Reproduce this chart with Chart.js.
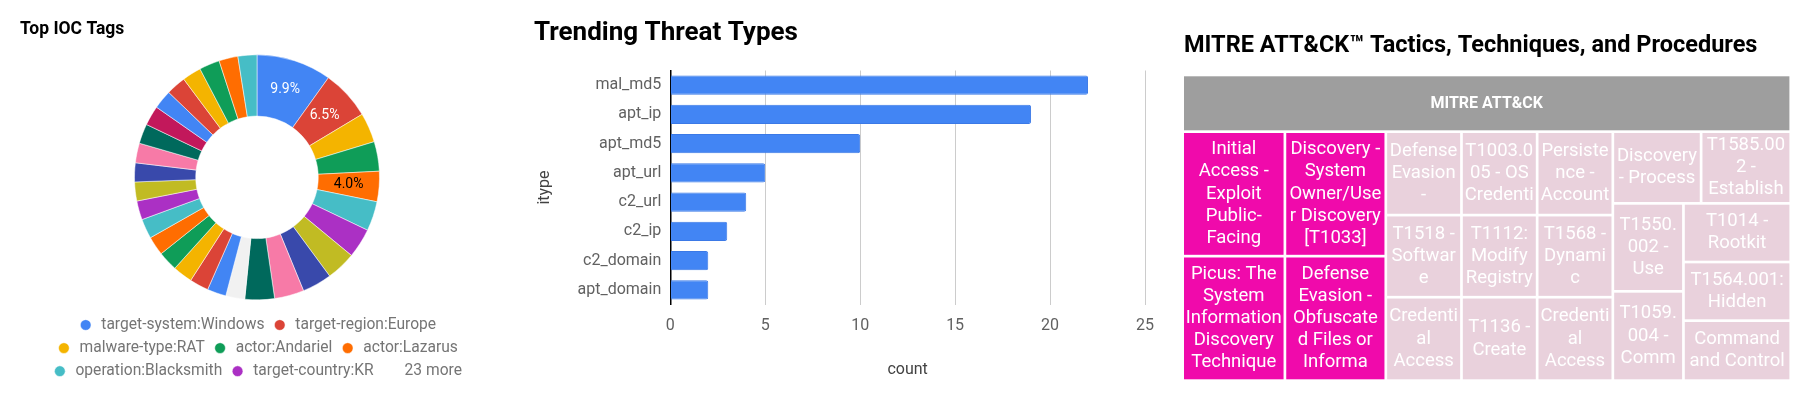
<!DOCTYPE html>
<html>
<head>
<meta charset="utf-8">
<script src="https://cdn.jsdelivr.net/npm/chart.js@4.4.1/dist/chart.umd.min.js"></script>
<style>
  html, body { margin: 0; padding: 0; background: #fff; }
  body { width: 1809px; height: 399px; position: relative; overflow: hidden; font-family: Roboto, sans-serif; }
  .panel { position: absolute; top: 0; height: 399px; }
  #tags { left: 0; width: 494px; }
  #threats { left: 520px; width: 650px; }
  #mitre { left: 1170px; width: 639px; }
</style>
</head>
<body>
<div class="panel" id="tags"><canvas id="tags-chart"></canvas></div>
<div class="panel" id="threats"><canvas id="threats-chart"></canvas></div>
<div class="panel" id="mitre"><canvas id="mitre-chart"></canvas></div>

<script>
'use strict';

// ── Top IOC tags (share of tagged IOCs, %) ──
const tagNames = [
  'target-system:Windows', 'target-region:Europe', 'malware-type:RAT',
  'actor:Andariel', 'actor:Lazarus', 'operation:Blacksmith', 'target-country:KR'
];
const tagShare = [
  9.9, 6.5, 3.9, 3.9, 4.0, 3.9, 3.9, 3.9, 3.9, 3.9,
  3.9, 2.5, 2.5, 2.5, 2.6, 2.6, 2.5, 2.6, 2.5, 2.5,
  2.5, 2.6, 2.6, 2.6, 2.5, 2.6, 2.5, 2.7, 2.5, 2.5
];
const moreTagsText = '23 more';
const tagColors = [
  '#4285f4', '#db4437', '#f4b400', '#0f9d58', '#ff6d01', '#46bdc6', '#ab30c4', '#c1bb23',
  '#3949ab', '#f77aa7', '#00695c', '#f1f1f1', '#4285f4', '#db4437', '#f4b400', '#0f9d58',
  '#ff6d01', '#46bdc6', '#ab30c4', '#c1bb23', '#3949ab', '#f77aa7', '#00695c', '#c2185b',
  '#4285f4', '#db4437', '#f4b400', '#0f9d58', '#ff6d01', '#46bdc6'
];

// ── Trending threat types ──
const threatTypes = ['mal_md5', 'apt_ip', 'apt_md5', 'apt_url', 'c2_url', 'c2_ip', 'c2_domain', 'apt_domain'];
const threatCounts = [22, 19, 10, 5, 4, 3, 2, 2];

// ── MITRE ATT&CK treemap ──
const ttpRoot = 'MITRE ATT&CK';
const ttpNames = [
  'Initial Access - Exploit Public-Facing',
  'Picus: The System Information Discovery Technique',
  'Discovery - System Owner/User Discovery [T1033]',
  'Defense Evasion - Obfuscated Files or Informa',
  'Defense Evasion -',
  'T1518 - Software',
  'Credential Access - OS',
  'T1003.005 - OS Credenti',
  'T1112: Modify Registry',
  'T1136 - Create',
  'Persistence - Account',
  'T1568 - Dynamic',
  'Credential Access -',
  'Discovery - Process',
  'T1585.002 - Establish',
  'T1550.002 - Use Alterna',
  'T1059.004 - Command',
  'T1014 - Rootkit',
  'T1564.001: Hidden Files',
  'Command and Control -'
];
const ttpCounts = [2, 2, 2, 2, 1, 1, 1, 1, 1, 1, 1, 1, 1, 1, 1, 1, 1, 1, 1, 1];

Chart.defaults.font.family = 'Roboto, "Noto Sans", sans-serif';
Chart.defaults.animation = false;

function luminance(hex) {
  const [r, g, b] = [1, 3, 5].map(i => parseInt(hex.slice(i, i + 2), 16));
  return (0.299 * r + 0.587 * g + 0.114 * b) / 255;
}

function mixColor(a, b, t) {
  const ca = [1, 3, 5].map(i => parseInt(a.slice(i, i + 2), 16));
  const cb = [1, 3, 5].map(i => parseInt(b.slice(i, i + 2), 16));
  const c = ca.map((v, i) => Math.round(v + (cb[i] - v) * t));
  return `rgb(${c[0]},${c[1]},${c[2]})`;
}

// ── Doughnut ──
const sliceLabels = {
  id: 'sliceLabels',
  afterDatasetsDraw(chart) {
    const { ctx } = chart;
    const total = tagShare.reduce((a, b) => a + b, 0);
    ctx.save();
    ctx.font = '14px Roboto';
    ctx.textAlign = 'center';
    ctx.textBaseline = 'middle';
    chart.getDatasetMeta(0).data.forEach((arc, i) => {
      const pct = Math.round(tagShare[i] / total * 1000) / 10;
      if (pct < 4) return;
      const { x, y } = arc.tooltipPosition();
      ctx.fillStyle = luminance(tagColors[i]) > 0.5 ? '#000' : '#fff';
      ctx.fillText(pct.toFixed(1) + '%', x, y);
    });
    ctx.restore();
  }
};

const hiddenTags = tagShare.slice(tagNames.length).map((_, i) => `tag ${tagNames.length + i + 1}`);

new Chart(document.getElementById('tags-chart'), {
  type: 'doughnut',
  plugins: [sliceLabels],
  data: {
    labels: tagNames.concat(hiddenTags),
    datasets: [{
      data: tagShare,
      backgroundColor: tagColors,
      borderColor: '#ffffff',
      borderWidth: 0.5
    }]
  },
  options: {
    responsive: true,
    maintainAspectRatio: false,
    radius: 122.5,
    cutout: '50%',
    layout: { padding: { left: 20, right: 0, top: 0, bottom: 10 } },
    plugins: {
      tooltip: { enabled: false },
      title: {
        display: true,
        text: 'Top IOC Tags',
        align: 'start',
        color: '#000',
        font: { size: 17.5, weight: 'bold' },
        padding: { top: 19.2, bottom: 4.8 }
      },
      legend: {
        position: 'bottom',
        labels: {
          usePointStyle: true,
          pointStyle: 'circle',
          boxWidth: 15.6,
          boxHeight: 7.6,
          padding: 7.5,
          color: '#757575',
          font: { size: 15.6 },
          generateLabels(chart) {
            const items = Chart.overrides.doughnut.plugins.legend.labels
              .generateLabels(chart).slice(0, tagNames.length);
            items.push({
              text: moreTagsText,
              fillStyle: 'rgba(0,0,0,0)',
              strokeStyle: 'rgba(0,0,0,0)',
              lineWidth: 0,
              pointStyle: 'circle',
              fontColor: '#757575',
              hidden: false
            });
            return items;
          }
        }
      }
    }
  }
});

// ── Horizontal bars ──
new Chart(document.getElementById('threats-chart'), {
  type: 'bar',
  data: {
    labels: threatTypes,
    datasets: [{
      data: threatCounts,
      backgroundColor: '#4285f4',
      borderColor: '#3b79e6',
      borderWidth: 1,
      borderRadius: 2,
      barPercentage: 0.65,
      categoryPercentage: 1
    }]
  },
  options: {
    indexAxis: 'y',
    responsive: true,
    maintainAspectRatio: false,
    layout: { padding: { left: 14, right: 25, top: 0, bottom: 10 } },
    plugins: {
      legend: { display: false },
      tooltip: { enabled: false },
      title: {
        display: true,
        text: 'Trending Threat Types',
        align: 'start',
        color: '#000',
        font: { size: 26, weight: 'bold' },
        padding: { top: 17.4, bottom: 21.9 }
      }
    },
    scales: {
      x: {
        min: 0,
        max: 25,
        ticks: { stepSize: 5, padding: 12, color: '#616161', font: { size: 16 } },
        grid: {
          color: c => (c.tick && c.tick.value === 0 ? 'rgba(0,0,0,0)' : '#cccccc'),
          drawTicks: false
        },
        border: { display: false },
        title: { display: true, text: 'count', color: '#424242', font: { size: 16 }, padding: { top: 0, bottom: 9.4 } },
        afterFit(scale) { scale.height = 84.5; }
      },
      y: {
        ticks: { padding: 9, color: '#616161', font: { size: 16 } },
        grid: { display: false, drawTicks: false },
        border: { display: true, color: '#000', width: 1.5 },
        title: { display: true, text: 'itype', color: '#424242', font: { size: 16 }, padding: { top: 1.4, bottom: 0 } },
        afterFit(scale) { scale.width = 136.3; }
      }
    }
  }
});

// ── Treemap (squarified) drawn on hidden linear scales ──
function squarify(values, rect, kx, ky) {
  const out = [];
  let items = values.map((v, i) => ({ v, i }));
  let r = { ...rect };
  let total = values.reduce((a, b) => a + b, 0);
  while (items.length) {
    const w = (r.x1 - r.x0) * kx, h = (r.y1 - r.y0) * ky;
    const side = Math.min(w, h);
    const scale = (w * h) / total;
    let row = [], best = Infinity;
    for (let n = 1; n <= items.length; n++) {
      const cand = items.slice(0, n);
      const thick = cand.reduce((a, c) => a + c.v, 0) * scale / side;
      let worst = 0;
      for (const c of cand) {
        const len = c.v * scale / thick;
        worst = Math.max(worst, thick / len, len / thick);
      }
      if (worst > best + 1e-9) break;
      best = worst;
      row = cand;
    }
    const rowSum = row.reduce((a, c) => a + c.v, 0);
    const frac = rowSum / total;
    if (w >= h) {
      const xm = r.x0 + (r.x1 - r.x0) * frac;
      let yy = r.y0;
      for (const c of row) {
        const dh = (r.y1 - r.y0) * c.v / rowSum;
        out[c.i] = { x0: r.x0, x1: xm, y0: yy, y1: yy + dh };
        yy += dh;
      }
      r.x0 = xm;
    } else {
      const ym = r.y0 + (r.y1 - r.y0) * frac;
      let xx = r.x0;
      for (const c of row) {
        const dw = (r.x1 - r.x0) * c.v / rowSum;
        out[c.i] = { x0: xx, x1: xx + dw, y0: r.y0, y1: ym };
        xx += dw;
      }
      r.y0 = ym;
    }
    items = items.slice(row.length);
    total -= rowSum;
  }
  return out;
}

function wrapLabel(ctx, text, maxW) {
  const tokens = [];
  text.split(' ').forEach(word => {
    word.split(/(?<=-)(?=.)/).forEach((part, k) => tokens.push({ part, space: k === 0 }));
  });
  const lines = [];
  let line = '';
  for (const tok of tokens) {
    const trial = line ? line + (tok.space ? ' ' : '') + tok.part : tok.part;
    if (ctx.measureText(trial).width <= maxW) { line = trial; continue; }
    if (line) lines.push(line);
    let rest = tok.part;
    while (rest.length > 1 && ctx.measureText(rest).width > maxW) {
      let n = rest.length - 1;
      while (n > 1 && ctx.measureText(rest.slice(0, n)).width > maxW) n--;
      lines.push(rest.slice(0, n));
      rest = rest.slice(n);
    }
    line = rest;
  }
  if (line) lines.push(line);
  return lines;
}

const ttpTreemap = {
  id: 'ttpTreemap',
  afterDatasetsDraw(chart) {
    const { ctx, chartArea: area, scales: { x, y } } = chart;
    const headerPx = 54, gap = 2.7, lineH = 22.2;
    const lowColor = '#e9d1dc', highColor = '#f00aab';
    const top = (headerPx + gap) / area.height;

    ctx.save();
    const hx0 = x.getPixelForValue(0), hx1 = x.getPixelForValue(1), hy0 = y.getPixelForValue(0);
    ctx.fillStyle = '#9e9e9e';
    ctx.fillRect(hx0, hy0, hx1 - hx0, headerPx);
    ctx.fillStyle = '#ffffff';
    ctx.font = 'bold 16px Roboto';
    ctx.textAlign = 'center';
    ctx.textBaseline = 'middle';
    ctx.fillText(ttpRoot, (hx0 + hx1) / 2, hy0 + headerPx / 2 + 1);

    const cells = squarify(ttpCounts, { x0: 0, y0: top, x1: 1, y1: 1 }, area.width, area.height);
    const vMin = Math.min(...ttpCounts), vMax = Math.max(...ttpCounts);
    const eps = 1e-6;

    cells.forEach((c, i) => {
      let l = x.getPixelForValue(c.x0), r = x.getPixelForValue(c.x1);
      let t = y.getPixelForValue(c.y0), b = y.getPixelForValue(c.y1);
      if (c.x0 > eps) l += gap / 2;
      if (c.x1 < 1 - eps) r -= gap / 2;
      if (c.y0 > top + eps) t += gap / 2;
      if (c.y1 < 1 - eps) b -= gap / 2;
      const w = r - l, h = b - t;
      ctx.fillStyle = mixColor(lowColor, highColor, vMax > vMin ? (ttpCounts[i] - vMin) / (vMax - vMin) : 1);
      ctx.fillRect(l, t, w, h);

      ctx.save();
      ctx.beginPath();
      ctx.rect(l, t, w, h);
      ctx.clip();
      ctx.font = '18.5px Roboto';
      ctx.fillStyle = '#ffffff';
      const lines = wrapLabel(ctx, ttpNames[i], w - 3);
      const n = Math.min(lines.length, Math.max(1, Math.floor((h - 2) / lineH)));
      const cx = l + w / 2;
      const y0 = t + h / 2 - (n - 1) * lineH / 2;
      for (let k = 0; k < n; k++) ctx.fillText(lines[k], cx, y0 + k * lineH);
      ctx.restore();
    });
    ctx.restore();
  }
};

new Chart(document.getElementById('mitre-chart'), {
  type: 'scatter',
  plugins: [ttpTreemap],
  data: { datasets: [{ data: [] }] },
  options: {
    responsive: true,
    maintainAspectRatio: false,
    layout: { padding: { left: 14, right: 19.6, top: 0, bottom: 19.7 } },
    plugins: {
      legend: { display: false },
      tooltip: { enabled: false },
      title: {
        display: true,
        text: 'MITRE ATT&CK™ Tactics, Techniques, and Procedures',
        align: 'start',
        color: '#000',
        font: { size: 23.5, weight: 'bold' },
        padding: { top: 32.3, bottom: 15.8 }
      }
    },
    scales: {
      x: { type: 'linear', min: 0, max: 1, display: false },
      y: { type: 'linear', min: 0, max: 1, reverse: true, display: false }
    }
  }
});
</script>
</body>
</html>
